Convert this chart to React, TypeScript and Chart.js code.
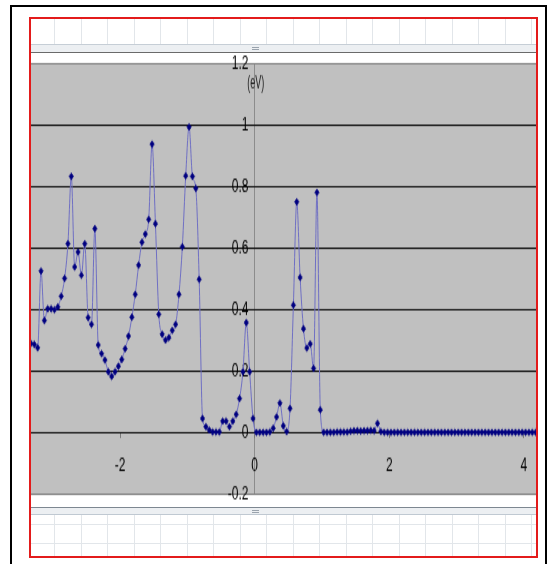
import React, { useEffect, useRef } from 'react';
import Chart from 'chart.js/auto';

// ---- data ----
const X_START = -3.325; // first sample position
const X_STEP = 0.05; // sample spacing
const intensity = [
  0.29, 0.287, 0.276, 0.526, 0.365, 0.403, 0.403, 0.4, 0.409, 0.444,
  0.502, 0.615, 0.834, 0.539, 0.588, 0.512, 0.615, 0.374, 0.352, 0.664,
  0.285, 0.257, 0.236, 0.198, 0.183, 0.198, 0.216, 0.238, 0.273, 0.314,
  0.376, 0.45, 0.545, 0.62, 0.646, 0.694, 0.939, 0.68, 0.385, 0.32,
  0.301, 0.309, 0.333, 0.352, 0.45, 0.605, 0.836, 0.995, 0.834, 0.795,
  0.499, 0.046, 0.019, 0.008, 0.002, 0.002, 0.002, 0.037, 0.037, 0.019,
  0.037, 0.059, 0.111, 0.198, 0.358, 0.198, 0.046, 0.001, 0.001, 0.001,
  0.001, 0.002, 0.014, 0.051, 0.096, 0.022, 0.003, 0.079, 0.415, 0.751,
  0.505, 0.338, 0.275, 0.289, 0.209, 0.782, 0.074, 0.001, 0.001, 0.001,
  0.001, 0.002, 0.002, 0.002, 0.002, 0.004, 0.006, 0.006, 0.005, 0.006,
  0.006, 0.007, 0.006, 0.03, 0.003, 0.001, 0.001, 0.001, 0.001, 0.001,
  0.001, 0.001, 0.001, 0.001, 0.001, 0.001, 0.001, 0.001, 0.001, 0.001,
  0.001, 0.001, 0.001, 0.001, 0.001, 0.001, 0.001, 0.001, 0.001, 0.001,
  0.001, 0.001, 0.001, 0.001, 0.001, 0.001, 0.001, 0.001, 0.001, 0.001,
  0.001, 0.001, 0.001, 0.001, 0.001, 0.001, 0.001, 0.001, 0.001, 0.001,
  0.001, 0.001,
];
const xTickValues = [-2, 0, 2, 4];
const yTickValues = [-0.2, 0, 0.2, 0.4, 0.6, 0.8, 1, 1.2];
const yTickLabels = ['-0.2', '0', '0.2', '0.4', '0.6', '0.8', '1', '1.2'];
const X_MIN = -3.324;
const X_MAX = 4.18;
const Y_MIN = -0.2;
const Y_MAX = 1.2;
const Y_UNIT = '(eV)';

// ---- layout ----
const W = 549;
const H = 564;
const SY = 1.5; // vertical stretch of the screenshot
const CH = H / SY;
const FONT_FAMILY = '"Liberation Sans", Arial, Helvetica, sans-serif';
const cellX = Array.from({ length: 19 }, (_, i) => Math.round(54 + 26.5 * i));

const plotBg = {
  id: 'plotBg',
  beforeDraw(chart: any) {
    const { ctx, chartArea: a } = chart;
    ctx.save();
    ctx.fillStyle = '#c0c0c0';
    ctx.fillRect(a.left, a.top, a.right - a.left, a.bottom - a.top);
    ctx.restore();
  },
};

const unitLabel = {
  id: 'unitLabel',
  afterDraw(chart: any) {
    const { ctx, scales } = chart;
    const x = scales.x.getPixelForValue(0) + 1;
    const y = scales.y.getPixelForValue(Y_MAX) + 12.8;
    ctx.save();
    ctx.translate(x, y);
    ctx.scale(1, 1.5);
    ctx.font = `9px ${FONT_FAMILY}`;
    ctx.fillStyle = '#1a1a1a';
    ctx.textAlign = 'center';
    ctx.textBaseline = 'middle';
    ctx.fillText(Y_UNIT, 0, 0);
    ctx.restore();
  },
};

const abs = (l: number, t: number, w: number, h: number, bg: string, key: string) => (
  <div key={key} style={{ position: 'absolute', left: l, top: t, width: w, height: h, background: bg }} />
);

export default function App() {
  const ref = useRef<HTMLCanvasElement | null>(null);

  useEffect(() => {
    if (!ref.current) return;
    const points = intensity.map((v, i) => ({ x: +(X_START + i * X_STEP).toFixed(3), y: v }));
    const font = { family: FONT_FAMILY, size: 12 };
    const chart = new Chart(ref.current, {
      type: 'line',
      data: {
        datasets: [
          {
            data: points,
            borderColor: '#6f6fc4',
            borderWidth: 1,
            pointStyle: 'rectRot',
            pointRadius: 2.3,
            pointBackgroundColor: '#000080',
            pointBorderColor: '#000080',
            pointBorderWidth: 0.5,
            cubicInterpolationMode: 'monotone',
            clip: 0,
          } as any,
        ],
      },
      options: {
        animation: false,
        responsive: false,
        devicePixelRatio: 1,
        events: [],
        layout: { padding: { left: 31, right: 13, top: 64 / SY, bottom: (H - 494) / SY } },
        plugins: { legend: { display: false }, tooltip: { enabled: false }, title: { display: false } },
        scales: {
          x: {
            type: 'linear',
            min: X_MIN,
            max: X_MAX,
            position: { y: 0 } as any,
            afterFit: (s: any) => {
              s.height = 0;
            },
            afterBuildTicks: (s: any) => {
              s.ticks = xTickValues.map((v) => ({ value: v }));
            },
            grid: {
              color: (c: any) => (c.tick && c.tick.value === 0 ? '#8c8c8c' : 'rgba(0,0,0,0)'),
              tickColor: '#7a7a7a',
              tickLength: 4,
              lineWidth: 1,
            },
            border: { display: false },
            ticks: { padding: 11, color: '#000', font, maxRotation: 0, autoSkip: false },
          },
          y: {
            type: 'linear',
            min: Y_MIN,
            max: Y_MAX,
            position: { x: -0.092 } as any,
            afterFit: (s: any) => {
              s.width = 0;
            },
            afterBuildTicks: (s: any) => {
              s.ticks = yTickValues.map((v) => ({ value: v }));
            },
            grid: {
              color: (c: any) =>
                c.tick && (Math.abs(c.tick.value - Y_MAX) < 1e-6 || Math.abs(c.tick.value - Y_MIN) < 1e-6)
                  ? '#7f7f7f'
                  : '#111',
              drawTicks: false,
              lineWidth: 1,
            },
            border: { display: false },
            ticks: {
              color: '#000',
              font,
              autoSkip: false,
              callback: (v: any, i: number) => yTickLabels[i] ?? String(v),
            },
          },
        },
      } as any,
      plugins: [plotBg, unitLabel],
    });
    return () => chart.destroy();
  }, []);

  const deco: any[] = [];
  cellX.forEach((x, i) => deco.push(abs(x, 19, 1, 25, '#e2e6ea', 't' + i)));
  deco.push(abs(31, 44, 505, 1, '#c6ced6', 'tl1'));
  deco.push(abs(31, 45, 505, 7, '#eceff2', 'tb'));
  deco.push(abs(252, 47, 7, 1, '#9aa3ad', 'tg1'));
  deco.push(abs(252, 49, 7, 1, '#9aa3ad', 'tg2'));
  deco.push(abs(31, 52, 505, 1, '#6a6a6a', 'tl2'));
  deco.push(abs(31, 507, 505, 1, '#7d8791', 'bl1'));
  deco.push(abs(31, 508, 505, 6, '#eceff2', 'bb'));
  deco.push(abs(252, 510, 7, 1, '#9aa3ad', 'bg1'));
  deco.push(abs(252, 512, 7, 1, '#9aa3ad', 'bg2'));
  deco.push(abs(31, 514, 505, 1, '#c0c9d2', 'bl2'));
  cellX.forEach((x, i) => deco.push(abs(x, 515, 1, 41, '#e2e6ea', 'b' + i)));
  deco.push(abs(31, 524, 505, 1, '#e2e6ea', 'bh1'));
  deco.push(abs(31, 543, 505, 1, '#e2e6ea', 'bh2'));

  return (
    <div style={{ position: 'absolute', left: 0, top: 0, width: W, height: H, background: '#fff', overflow: 'hidden' }}>
      <div
        style={{
          position: 'absolute',
          left: 10,
          top: 5,
          width: 537,
          height: 700,
          border: '2px solid #000',
          boxSizing: 'border-box',
        }}
      />
      <div
        style={{
          position: 'absolute',
          left: 29,
          top: 17,
          width: 509,
          height: 541,
          border: '2px solid #e31b1b',
          boxSizing: 'border-box',
        }}
      />
      {deco}
      <canvas
        ref={ref}
        width={W}
        height={CH}
        style={{ position: 'absolute', left: 0, top: 0, width: W + 'px', height: H + 'px' }}
      />
    </div>
  );
}
